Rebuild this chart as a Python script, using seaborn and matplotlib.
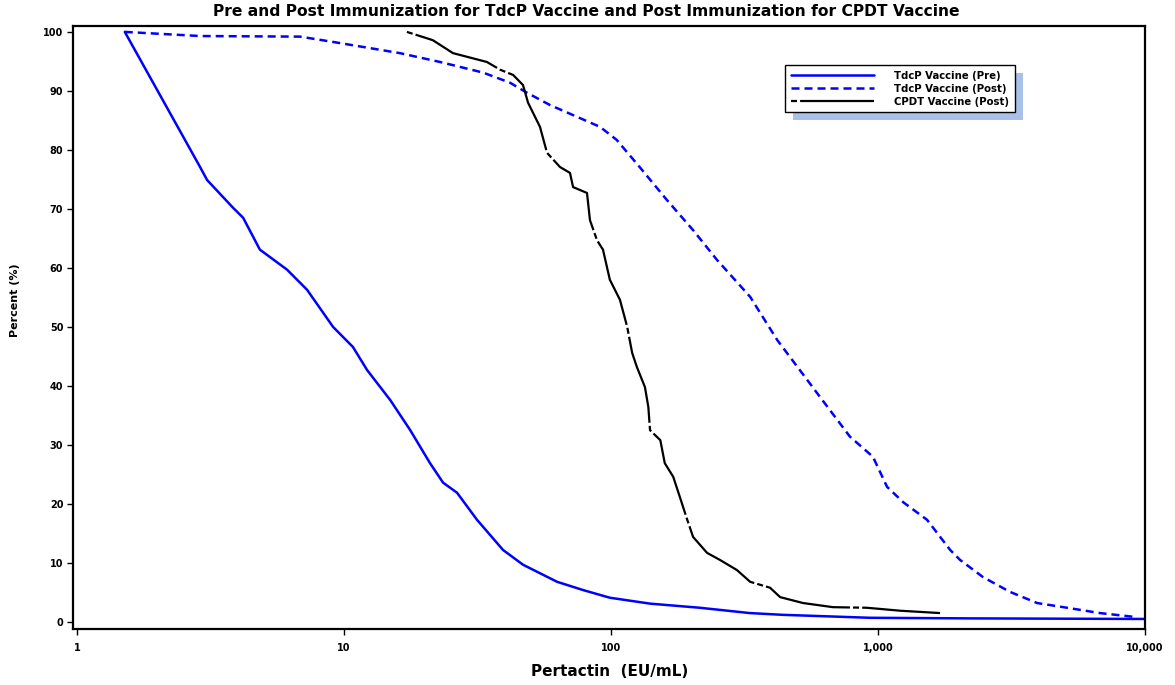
import numpy as np
import pandas as pd
import matplotlib
matplotlib.use("Agg")
import matplotlib.pyplot as plt
import seaborn as sns
from matplotlib.patches import Rectangle
from matplotlib.ticker import FixedLocator, NullLocator, FixedFormatter

# ---- data ----
pre_x = [1.51, 2.89, 3.07, 3.84, 4.19, 4.84, 6.12, 7.27, 9.1, 10.8, 12.2, 14.9, 17.7,
         21.0, 23.5, 26.5, 31.5, 39.4, 46.8, 55.6, 62.8, 78.6, 99, 140, 215, 331,
         441, 934, 2200, 10000]
pre_y = [100, 77.1, 74.9, 70.2, 68.5, 63.1, 59.7, 56.3, 50.0, 46.6, 42.7, 37.6, 32.5,
         26.9, 23.6, 21.9, 17.3, 12.2, 9.7, 8.0, 6.8, 5.4, 4.1, 3.1, 2.4, 1.5,
         1.2, 0.7, 0.6, 0.5]

post_x = [1.51, 2.89, 6.84, 9.1, 16.2, 22.9, 33.2, 41.8, 48.4, 59.1, 72.1, 91, 105,
          128, 162, 203, 249, 332, 419, 591, 785, 957, 1081, 1242, 1527, 1863,
          2030, 2473, 3119, 3945, 5107, 6777, 9330]
post_y = [100, 99.3, 99.2, 98.3, 96.4, 94.9, 93.1, 91.4, 89.7, 87.6, 85.9, 83.9, 81.7,
          77.1, 71.5, 66.4, 61.4, 55.1, 47.8, 38.8, 31.4, 28.0, 22.9, 20.3, 17.3, 12.2,
          10.5, 7.6, 5.1, 3.2, 2.4, 1.5, 0.8]

cpdt_x = [17.2, 21.5, 25.6, 34.3, 38.4, 43.0, 46.8, 48.9, 54.2, 57.6, 64.4, 70.2, 72.1,
          81.3, 83.4, 88.6, 93.3, 99, 108, 115, 120, 125, 134, 138, 140, 153, 159,
          171, 181, 193, 203, 229, 256, 296, 332, 394, 430, 524, 678, 909, 1209, 1708]
cpdt_y = [100, 98.6, 96.4, 94.9, 93.6, 92.7, 91.0, 88.0, 83.9, 79.5, 77.1, 76.1, 73.7,
          72.7, 68.1, 64.7, 63.1, 58.0, 54.6, 50.0, 45.6, 43.2, 39.8, 36.4, 32.5, 30.8, 26.9,
          24.6, 21.2, 17.3, 14.4, 11.7, 10.5, 8.8, 6.8, 5.8, 4.2, 3.2, 2.5, 2.4, 1.9, 1.5]

series_labels = ["TdcP Vaccine (Pre)", "TdcP Vaccine (Post)", "CPDT Vaccine (Post)"]
x_ticks = [1, 10, 100, 1000, 10000]
x_tick_labels = ["1", "10", "100", "1,000", "10,000"]
y_ticks = [0, 10, 20, 30, 40, 50, 60, 70, 80, 90, 100]

title = "Pre and Post Immunization for TdcP Vaccine and Post Immunization for CPDT Vaccine"
xlabel = "Pertactin  (EU/mL)"
ylabel = "Percent (%)"

# ---- style ----
sns.set_theme(style="white")
plt.rcParams["font.family"] = ["DejaVu Sans"]
plt.rcParams["font.weight"] = "bold"
for k in ["text.color", "axes.labelcolor", "xtick.color", "ytick.color"]:
    plt.rcParams[k] = "black"

W, H = 1175, 685
fig = plt.figure(figsize=(W / 100, H / 100), dpi=100)
fig.patch.set_facecolor("white")
L, R, T, B = 73, 1145, 26, 629
ax = fig.add_axes([L / W, 1 - B / H, (R - L) / W, (B - T) / H])
ax.set_facecolor("white")

sns.lineplot(x=pre_x, y=pre_y, ax=ax, color="#0000ff", lw=1.8,
             estimator=None, sort=False, label=series_labels[0])
sns.lineplot(x=post_x, y=post_y, ax=ax, color="#0000ff", lw=1.8,
             linestyle=(0, (3.2, 2.0)), estimator=None, sort=False,
             label=series_labels[1])
sns.lineplot(x=cpdt_x, y=cpdt_y, ax=ax, color="black", lw=1.6,
             linestyle=(0, (2.7, 1.4, 40, 1.4)), estimator=None, sort=False,
             label=series_labels[2])

ax.set_xscale("log")
ax.set_xlim(0.966, 10000)
ax.set_ylim(-1.2, 101)
ax.xaxis.set_major_locator(FixedLocator(x_ticks))
ax.xaxis.set_major_formatter(FixedFormatter(x_tick_labels))
ax.xaxis.set_minor_locator(NullLocator())
ax.yaxis.set_major_locator(FixedLocator(y_ticks))
ax.tick_params(axis="both", which="major", direction="out", length=4, width=1,
               color="black", labelcolor="black", labelsize=7, bottom=True, left=True, pad=3)
ax.tick_params(axis="x", pad=6)
for sp in ax.spines.values():
    sp.set_visible(True)
    sp.set_color("black")
    sp.set_linewidth(1.6)
for t in ax.get_xticklabels() + ax.get_yticklabels():
    t.set_fontweight("bold")

ax.set_xlabel("")
ax.set_ylabel(ylabel, fontsize=8, fontweight="bold", labelpad=0, color="black")
ax.yaxis.set_label_coords((20 - L) / (R - L), 0.546)

fig.text(610 / W, 1 - 672 / H, xlabel, ha="center", va="center",
         fontsize=11, fontweight="bold", color="black")
fig.text(586 / W, 1 - 12 / H, title, ha="center", va="center",
         fontsize=11.2, fontweight="bold", color="black")

# legend (figure-level) with a light blue drop shadow
handles, labels = ax.get_legend_handles_labels()
ax.get_legend().remove()
leg = fig.legend(handles, labels, loc="upper left",
                 bbox_to_anchor=(785 / W, 1 - 65 / H), bbox_transform=fig.transFigure,
                 borderaxespad=0, frameon=True, fancybox=False, framealpha=1,
                 edgecolor="black", handlelength=8.2, handletextpad=2.0,
                 labelspacing=0.3, borderpad=0.55, prop={"weight": "bold", "size": 7.3})
leg.get_frame().set_linewidth(1.0)
leg.set_zorder(5)

fig.canvas.draw()
bb = leg.get_window_extent().transformed(fig.transFigure.inverted())
dx, dy = 8 / W, 8 / H
shadow = Rectangle((bb.x0 + dx, bb.y0 - dy), bb.width, bb.height,
                   transform=fig.transFigure, facecolor="#a9c0e8", edgecolor="none",
                   zorder=4)
fig.add_artist(shadow)

fig.savefig("out.png", dpi=100, facecolor="white")
